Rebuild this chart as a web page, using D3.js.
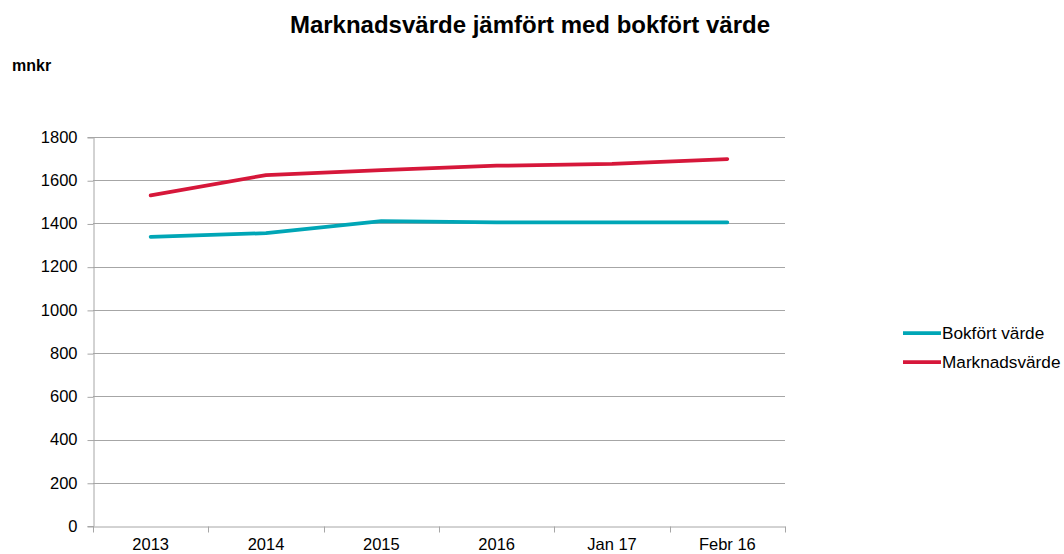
<!DOCTYPE html>
<html>
<head>
<meta charset="utf-8">
<script src="https://cdn.jsdelivr.net/npm/d3@7"></script>
<style>
  body { margin: 0; background: #fff; }
  svg { font-family: "Liberation Sans", Arial, sans-serif; }
</style>
</head>
<body>
<svg id="chart"></svg>
<script>
const categories = ["2013", "2014", "2015", "2016", "Jan 17", "Febr 16"];
const bokfort = [1338, 1355, 1411, 1405, 1405, 1405];
const marknad = [1530, 1624, 1647, 1667, 1676, 1698];
const yTicks = [0, 200, 400, 600, 800, 1000, 1200, 1400, 1600, 1800];

const series = [
  { name: "Bokfört värde", values: bokfort, color: "#00a6b6" },
  { name: "Marknadsvärde", values: marknad, color: "#d6173a" }
];

const width = 1064, height = 554;
const margin = { top: 137, right: 280, bottom: 28, left: 93 };

const svg = d3.select("#chart")
  .attr("width", width)
  .attr("height", height);

const xScale = d3.scaleBand()
  .domain(categories)
  .range([margin.left, width - margin.right + 1]);

const yScale = d3.scaleLinear()
  .domain([0, 1800])
  .range([height - margin.bottom, margin.top]);

// ===== GRID =====
svg.append("g")
  .selectAll("line")
  .data(yTicks.filter(d => d > 0))
  .enter()
  .append("line")
  .attr("x1", margin.left)
  .attr("x2", width - margin.right + 1)
  .attr("y1", d => Math.round(yScale(d)) + 0.5)
  .attr("y2", d => Math.round(yScale(d)) + 0.5)
  .attr("stroke", "#a6a6a6")
  .attr("stroke-width", 1);

// ===== AXES =====
const yAxis = svg.append("g")
  .attr("transform", `translate(${margin.left + 0.5},0)`)
  .call(d3.axisLeft(yScale)
    .tickValues(yTicks)
    .tickFormat(d3.format("d"))
    .tickSize(6)
    .tickPadding(10));

const xAxis = svg.append("g")
  .attr("transform", `translate(0,${Math.round(yScale(0)) + 0.5})`)
  .call(d3.axisBottom(xScale).tickSize(0).tickPadding(12));

[yAxis, xAxis].forEach(a => {
  a.select(".domain").attr("stroke", "#a6a6a6");
  a.selectAll(".tick line").attr("stroke", "#a6a6a6");
  a.selectAll("text")
    .attr("font-size", 16.5)
    .attr("fill", "#000")
    .attr("font-family", "Liberation Sans, Arial, sans-serif");
});
yAxis.selectAll(".tick line").attr("transform", "translate(0,0.5)");

// x tick marks at band edges
const edges = categories.map(c => xScale(c)).concat([xScale.range()[1]]);
xAxis.append("g")
  .selectAll("line")
  .data(edges)
  .enter()
  .append("line")
  .attr("x1", d => Math.round(d) + 0.5)
  .attr("x2", d => Math.round(d) + 0.5)
  .attr("y1", 0)
  .attr("y2", 6)
  .attr("stroke", "#a6a6a6");

// ===== LINES =====
const line = d3.line()
  .x((d, i) => xScale(categories[i]) + xScale.bandwidth() / 2)
  .y(d => yScale(d));

series.forEach(s => {
  svg.append("path")
    .datum(s.values)
    .attr("fill", "none")
    .attr("stroke", s.color)
    .attr("stroke-width", 3.75)
    .attr("stroke-linejoin", "round")
    .attr("stroke-linecap", "round")
    .attr("d", line);
});

// ===== TITLE =====
svg.append("text")
  .attr("x", 530)
  .attr("y", 33)
  .attr("text-anchor", "middle")
  .attr("font-size", 24)
  .attr("font-weight", 700)
  .text("Marknadsvärde jämfört med bokfört värde");

svg.append("text")
  .attr("x", 12)
  .attr("y", 71)
  .attr("font-size", 16)
  .attr("font-weight", 700)
  .text("mnkr");

// ===== LEGEND =====
const legend = svg.append("g")
  .attr("transform", "translate(903,333)");

series.forEach((s, i) => {
  legend.append("line")
    .attr("x1", 0)
    .attr("x2", 38)
    .attr("y1", i * 29)
    .attr("y2", i * 29)
    .attr("stroke", s.color)
    .attr("stroke-width", 3.75);
  legend.append("text")
    .attr("x", 39)
    .attr("y", i * 29 + 6)
    .attr("font-size", 17.2)
    .text(s.name);
});
</script>
</body>
</html>
